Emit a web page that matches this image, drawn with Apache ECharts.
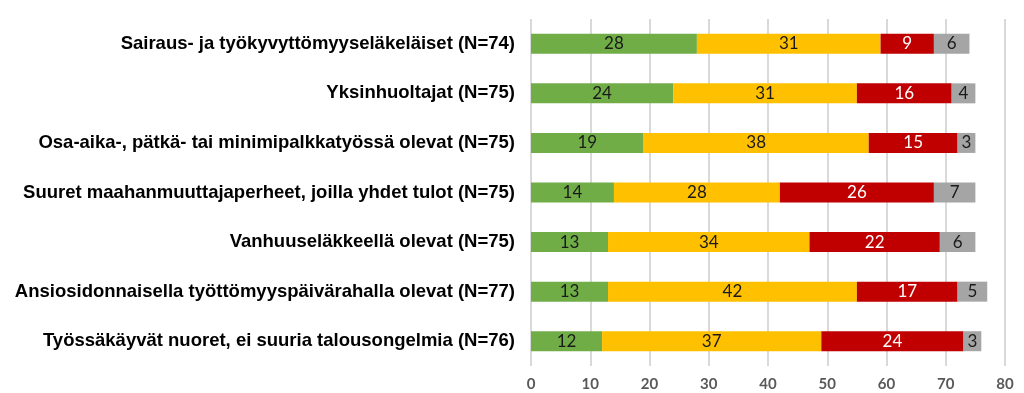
<!DOCTYPE html>
<html><head><meta charset="utf-8">
<script src="https://cdn.jsdelivr.net/npm/echarts@6/dist/echarts.min.js"></script>
<style>html,body{margin:0;padding:0;background:#fff}#c{width:1024px;height:393px}</style>
</head><body><div id="c"></div>
<script>
const categories = [
  "Sairaus- ja työkyvyttömyyseläkeläiset (N=74)",
  "Yksinhuoltajat (N=75)",
  "Osa-aika-, pätkä- tai minimipalkkatyössä olevat (N=75)",
  "Suuret maahanmuuttajaperheet, joilla yhdet tulot (N=75)",
  "Vanhuuseläkkeellä olevat (N=75)",
  "Ansiosidonnaisella työttömyyspäivärahalla olevat (N=77)",
  "Työssäkäyvät nuoret, ei suuria talousongelmia (N=76)"
];
const greenValues = [28, 24, 19, 14, 13, 13, 12];
const yellowValues = [31, 31, 38, 28, 34, 42, 37];
const redValues = [9, 16, 15, 26, 22, 17, 24];
const greyValues = [6, 4, 3, 7, 6, 5, 3];
const xTicks = {min: 0, max: 80, interval: 10};

const colors = ['#70AD47', '#FFC000', '#C00000', '#A5A5A5'];
const labelColors = ['#1a1a1a', '#1a1a1a', '#ffffff', '#1a1a1a'];
const seriesData = [greenValues, yellowValues, redValues, greyValues];

const chart = echarts.init(document.getElementById('c'));
chart.setOption({
  animation: false,
  grid: {left: 531, right: 19, top: 19, bottom: 27, containLabel: false},
  xAxis: {
    type: 'value', min: xTicks.min, max: xTicks.max, interval: xTicks.interval,
    axisLine: {show: false}, axisTick: {show: false},
    splitLine: {show: true, lineStyle: {color: '#D9D9D9', width: 2}},
    axisLabel: {color: '#595959', fontWeight: 'bold', fontSize: 15, fontFamily: 'Lato', margin: 11}
  },
  yAxis: {
    type: 'category', data: categories, inverse: true,
    axisLine: {show: false}, axisTick: {show: false},
    axisLabel: {color: '#000', fontWeight: 'bold', fontSize: 18.5, fontFamily: 'Liberation Sans', margin: 16}
  },
  series: seriesData.map((d, i) => ({
    type: 'bar', stack: 'all', data: d, barWidth: 20,
    itemStyle: {color: colors[i]},
    label: {show: true, position: 'inside', color: labelColors[i], fontSize: 17, fontFamily: 'Lato'}
  }))
});
</script></body></html>
